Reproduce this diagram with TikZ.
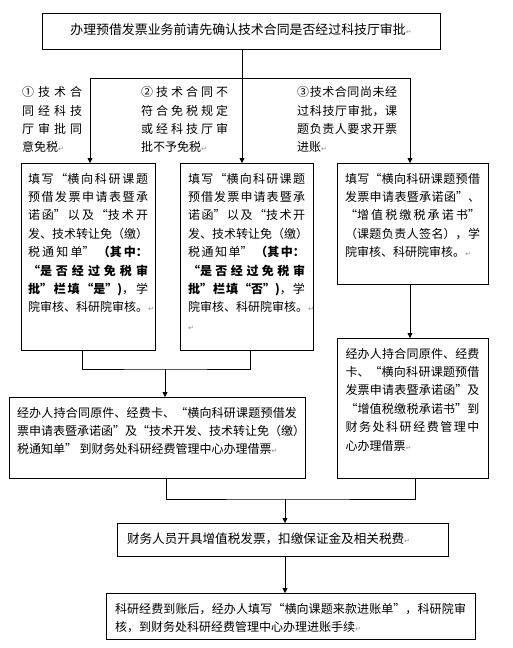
\documentclass[tikz,border=0pt]{standalone}
\usepackage{fontspec}
\setmainfont{Noto Sans CJK SC}
\newfontfamily\symfont{DejaVu Sans}
\usetikzlibrary{arrows.meta, positioning}
\XeTeXlinebreaklocale "zh"
\XeTeXlinebreakskip=0pt plus 8pt
\XeTeXlinebreakpenalty=10000
\newcommand{\retmark}{{\symfont\fontsize{7}{7}\selectfont\color{black!45}↵}}

\tikzset{
  flowbox/.style={draw, line width=0.8pt, anchor=north, inner sep=3pt,
    font=\fontsize{12}{18.4}\selectfont, align=justify, text height=16.6pt},
  branchtext/.style={anchor=north west, inner sep=0pt, text height=10pt,
    font=\fontsize{12}{18.3}\selectfont, align=justify},
  flowline/.style={line width=0.8pt},
  flowarrow/.style={line width=0.8pt, -{Triangle[length=5pt,width=5pt]}}
}

\begin{document}
\begin{tikzpicture}[x=1pt, y=-1pt]
\useasboundingbox (0,0) rectangle (512,648);

% Boxes
\node[flowbox, minimum width=398pt, text height=18.5pt, text depth=11.5pt,
  font=\fontsize{12.9}{15}\selectfont, align=center] (top) at (241,13)
  {办理预借发票业务前请先确认技术合同是否经过科技厅审批\retmark};

\node[flowbox, minimum width=134pt, text width=120pt, text depth=164.4pt] (b1) at (88,163)
  {填写“横向科研课题\linebreak 预借发票申请表暨承\linebreak 诺函”以及“技术开\linebreak
   发、技术转让免（缴）\linebreak 税通知单” \textbf{（其中：}\linebreak
   \textbf{“是否经过免税审\linebreak 批”栏填“是”)}，学\linebreak 院审核、科研院审核。\retmark};
\node[flowbox, minimum width=133pt, text width=117pt, text depth=164.4pt] (b2) at (246.5,163)
  {填写“横向科研课题\linebreak 预借发票申请表暨承\linebreak 诺函”以及“技术开\linebreak
   发、技术转让免（缴）\linebreak 税通知单” \textbf{（其中：}\linebreak
   \textbf{“是否经过免税审\linebreak 批”栏填“否”)}，学\linebreak 院审核、科研院审核。\retmark\par\retmark};
\node[flowbox, minimum width=151pt, text width=135pt, text depth=98.4pt] (b3) at (412.5,163)
  {填写“横向科研课题预借\linebreak 发票申请表暨承诺函”、\linebreak “增值税缴税承诺书”\linebreak
   （课题负责人签名），学\linebreak 院审核、科研院审核。\retmark};
\node[flowbox, minimum width=151pt, text width=134pt, text depth=117.4pt] (b5) at (412.5,338)
  {经办人持合同原件、经费\linebreak 卡、“横向科研课题预借\linebreak 发票申请表暨承诺函”及\linebreak
   “增值税缴税承诺书”到\linebreak 财务处科研经费管理中\linebreak 心办理借票\retmark};
\node[flowbox, minimum width=296pt, text width=280pt, text depth=58.4pt] (b4) at (157,397)
  {经办人持合同原件、经费卡、“横向科研课题预借发\linebreak
   票申请表暨承诺函”及“技术开发、技术转让免（缴）\linebreak
   税通知单” 到财务处科研经费管理中心办理借票\retmark};
\node[flowbox, minimum width=331pt, text width=311pt, text depth=10.4pt, align=left,
  font=\fontsize{12.6}{18.4}\selectfont] (b6) at (282.5,523)
  {财务人员开具增值税发票，扣缴保证金及相关税费\retmark};
\node[flowbox, minimum width=369pt, text width=351pt, text depth=23.4pt] (b7) at (290.5,593)
  {科研经费到账后，经办人填写“横向课题来款进账单”，科研院审\linebreak
   核，到财务处科研经费管理中心办理进账手续\retmark};

% Branch conditions
\node[branchtext, text width=60pt] (c1) at (22,86.6)
  {①技术合\linebreak 同经科技\linebreak 厅审批同\linebreak 意免税\retmark};
\node[branchtext, text width=87pt] (c2) at (141,86.6)
  {②技术合同不\linebreak 符合免税规定\linebreak 或经科技厅审\linebreak 批不予免税\retmark};
\node[branchtext, text width=100pt] (c3) at (297,86.6)
  {③技术合同尚未经\linebreak 过科技厅审批，课\linebreak 题负责人要求开票\linebreak 进账\retmark};

% Fork into the three cases
\coordinate (fork) at (242,78);
\coordinate (s1) at (90,78);
\coordinate (s2) at (242,78);
\coordinate (s3) at (410,78);
\draw[flowline] (fork |- top.south) -- (fork);
\draw[flowline] (s1) -- (s3);
\foreach \s/\b in {s1/b1, s2/b2, s3/b3}
  \draw[flowarrow] (\s) -- (\s |- \b.north);

% Join of the two left cases
\coordinate (m1) at (165,369);
\draw[flowline] ([xshift=-6pt]b1.south) |- (m1) -| ([xshift=3.5pt]b2.south);
\draw[flowarrow] (m1) -- (m1 |- b4.north);
\draw[flowarrow] (s3 |- b3.south) -- (s3 |- b5.north);

% Join before the invoice
\coordinate (m2) at (285,499);
\draw[flowline] ([xshift=9pt]b4.south) |- (m2) -| ([xshift=2.5pt]b5.south);
\draw[flowarrow] (m2) -- (m2 |- b6.north);
\draw[flowarrow] (m2 |- b6.south) -- (m2 |- b7.north);
\end{tikzpicture}
\end{document}
